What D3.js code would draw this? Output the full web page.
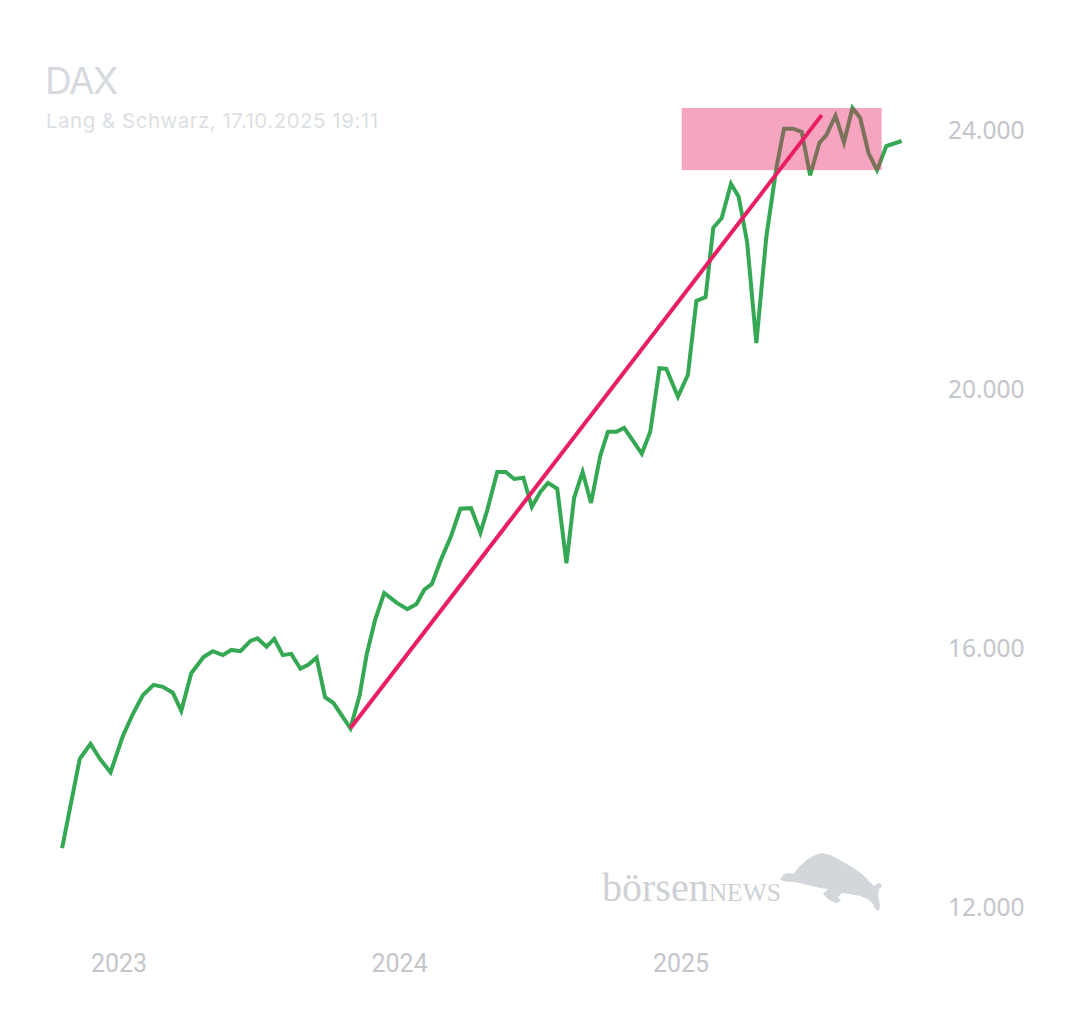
<!DOCTYPE html>
<html>
<head>
<meta charset="utf-8">
<script src="https://cdn.jsdelivr.net/npm/d3@7"></script>
<style>
  body { margin: 0; background: #fff; }
</style>
</head>
<body>
<div id="chart"></div>
<script>
// DAX, ungefaehre Schlusskurse
var dates = ['2022-10-19','2022-11-11','2022-11-25','2022-12-07','2022-12-21','2023-01-06','2023-01-19','2023-02-01',
  '2023-02-15','2023-02-27','2023-03-12','2023-03-23','2023-04-05','2023-04-21','2023-05-03','2023-05-16',
  '2023-05-27','2023-06-08','2023-06-21','2023-06-30','2023-07-12','2023-07-22','2023-08-02','2023-08-13',
  '2023-08-25','2023-09-04','2023-09-15','2023-09-26','2023-10-07','2023-10-29','2023-11-10','2023-11-19',
  '2023-11-30','2023-12-12','2023-12-28','2024-01-11','2024-01-23','2024-02-02','2024-02-12','2024-02-24',
  '2024-03-08','2024-03-20','2024-04-03','2024-04-15','2024-04-24','2024-05-07','2024-05-18','2024-05-29',
  '2024-06-10','2024-06-21','2024-07-02','2024-07-12','2024-07-24','2024-08-05','2024-08-15','2024-08-26',
  '2024-09-06','2024-09-18','2024-09-28','2024-10-09','2024-10-19','2024-10-30','2024-11-11','2024-11-22',
  '2024-12-04','2024-12-13','2024-12-28','2025-01-10','2025-01-21','2025-02-02','2025-02-12','2025-02-23',
  '2025-03-07','2025-03-17','2025-03-28','2025-04-09','2025-04-22','2025-05-05','2025-05-15','2025-05-27',
  '2025-06-07','2025-06-18','2025-06-30','2025-07-09','2025-07-21','2025-08-01','2025-08-12','2025-08-22',
  '2025-09-02','2025-09-13','2025-09-25','2025-10-15'];
var values = [12910,14290,14520,14290,14080,14640,14980,15270,
  15430,15400,15310,15030,15610,15860,15950,15890,
  15970,15950,16110,16150,16020,16140,15890,15910,
  15680,15740,15850,15240,15150,14760,15270,15890,
  16430,16850,16700,16600,16680,16900,16990,17370,
  17730,18150,18160,17780,18130,18720,18720,18610,
  18630,18180,18410,18550,18460,17310,18320,18720,
  18240,18970,19340,19340,19400,19210,19000,19340,
  20320,20310,19880,20220,21360,21420,22490,22640,
  23170,22970,22270,20710,22350,23410,24020,24020,
  23970,23300,23800,23920,24220,23810,24340,24190,
  23640,23380,23750,23830];

// Trendlinie
var trendDates = ['2023-10-29', '2025-07-03'];
var trendValues = [14760, 24230];

// Widerstandszone
var zoneDates = ['2025-01-02', '2025-09-19'];
var zoneValues = [23380, 24340];

var yearTicks = ['2023-01-01', '2024-01-01', '2025-01-01'];
var yearLabels = ['2023', '2024', '2025'];
var valueTicks = [12000, 16000, 20000, 24000];

var dim = {
    'width': 1080,
    'height': 1013
}

var parse = d3.timeParse('%Y-%m-%d');
var fmt = d3.format(',');

var svg = d3.select('#chart').append('svg')
    .attr('width', dim.width)
    .attr('height', dim.height);

var x = d3.scaleTime()
    .domain([parse('2023-01-01'), parse('2025-01-01')])
    .range([119, 681]);

var y = d3.scaleLinear()
    .domain([12000, 24000])
    .range([907, 130]);

var data = dates.map(function (d, i) {
    return { date: parse(d), value: values[i] };
});

var line = d3.line()
    .x(d => x(d.date))
    .y(d => y(d.value));

// titel
svg.append('text')
    .attr('x', 45)
    .attr('y', 94)
    .attr('font-family', 'Inter')
    .attr('font-size', 37)
    .attr('letter-spacing', -1.5)
    .attr('fill', '#d6d9dd')
    .text('DAX');

svg.append('text')
    .attr('x', 46)
    .attr('y', 128)
    .attr('font-family', 'Inter')
    .attr('font-size', 20.5)
    .attr('letter-spacing', 0.5)
    .attr('fill', '#dcdfe3')
    .text('Lang & Schwarz, 17.10.2025 19:11');

// wasserzeichen
var logo = svg.append('g').attr('id', 'logo');
var wm = logo.append('text')
    .attr('x', 602)
    .attr('y', 901)
    .attr('font-family', 'Liberation Serif')
    .attr('fill', '#cdd0d4');
wm.append('tspan').attr('font-size', 40).text('börsen');
wm.append('tspan').attr('font-size', 25.5).text('NEWS');

logo.append('path')
    .attr('d', 'M780,880 L783,875 L788,873 L793,874 L800,866 L808,859 L815,855 L822,853 L830,855 ' +
        'L840,860 L852,867 L862,874 L870,882 L874,886 L877,884 L880,883 L882,886 L879,889 L878,896 ' +
        'L880,905 L879,911 L875,909 L873,904 L868,899 L860,896 L850,894 L842,893 L838,897 L841,901 ' +
        'L836,903 L829,900 L823,894 L828,889 L820,888 L812,886 L803,884 L795,882 L788,882 Z')
    .attr('fill', '#d3d6da');

// achsen
var xAxis = svg.append('g').attr('id', 'x_axis');
xAxis.selectAll('text')
    .data(yearTicks).enter()
    .append('text')
    .attr('x', d => x(parse(d)))
    .attr('y', 972)
    .attr('text-anchor', 'middle')
    .attr('font-family', 'Roboto')
    .attr('font-size', 25)
    .attr('fill', '#c3c6cb')
    .text((d, i) => yearLabels[i]);

var yAxis = svg.append('g').attr('id', 'y_axis');
yAxis.selectAll('text')
    .data(valueTicks).enter()
    .append('text')
    .attr('x', 948)
    .attr('y', d => y(d))
    .attr('dy', '0.36em')
    .attr('font-family', 'Noto Sans')
    .attr('font-size', 24.5)
    .attr('fill', '#c3c6cb')
    .text(d => fmt(d).replace(',', '.'));

// kurs
svg.append('path')
    .datum(data)
    .attr('d', line)
    .attr('fill', 'none')
    .attr('stroke', '#34a853')
    .attr('stroke-width', 4);

// zone
svg.append('rect')
    .attr('x', x(parse(zoneDates[0])))
    .attr('y', y(zoneValues[1]))
    .attr('width', x(parse(zoneDates[1])) - x(parse(zoneDates[0])))
    .attr('height', y(zoneValues[0]) - y(zoneValues[1]))
    .attr('fill', '#e91e63')
    .attr('fill-opacity', 0.4);

// trend
svg.append('path')
    .datum(trendDates.map((d, i) => ({ date: parse(d), value: trendValues[i] })))
    .attr('d', line)
    .attr('fill', 'none')
    .attr('stroke', '#e91e63')
    .attr('stroke-width', 4);
</script>
</body>
</html>
